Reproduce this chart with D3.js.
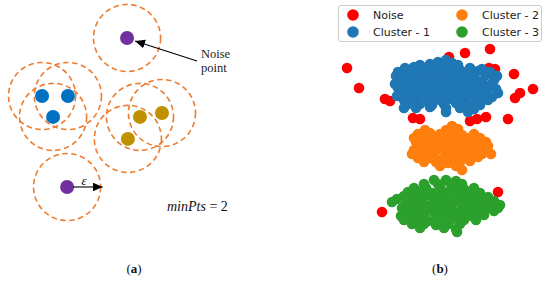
<!DOCTYPE html>
<html><head><meta charset="utf-8">
<script src="https://cdn.jsdelivr.net/npm/d3@7"></script>
<style>html,body{margin:0;padding:0;background:#fff;}svg{display:block}</style>
</head><body><svg id="c" width="550" height="282"></svg>
<script>
// ---------- Panel (a): DBSCAN illustration (diagram units) ----------
const epsRadius = 12.2;
const blueCore = [[15.3,34.9],[24.7,34.9],[19.3,42.5]];
const goldCore = [[50.9,42.5],[58.9,41.1],[46.5,50.5]];
const noiseA   = [[46.2,13.8]];
const borderA  = [[24.4,68.0]];
const minPts = 2;

// ---------- Panel (b): clustering result ----------
const legendLabels = ["Noise","Cluster - 1","Cluster - 2","Cluster - 3"];
const noiseB = [[-9.8,8.2],[-8.6,6.2],[-6.0,5.1],[-5.5,4.9],[-3.2,3.2],[-2.5,3.1],[0.4,9.3],[2.0,9.7],[4.5,10.1],[4.4,8.2],[5.0,8.1],[6.9,7.6],[8.8,6.1],[7.5,5.7],[7.0,5.2],[6.3,3.1],[4.1,3.3],[2.5,2.9],[3.2,3.1],[5.3,-4.2],[-6.3,-6.2]];
const cluster1 = [
 [-0.7,8.8],[0.1,9.0],[0.7,8.7],
 [-2.5,8.5],[-1.5,8.6],[-0.3,8.4],[1.3,8.5],
 [-4.0,8.2],[-3.1,8.3],[-2.0,8.1],[-0.9,8.2],[0.3,8.2],[1.5,8.0],[2.5,8.2],[3.7,8.1],
 [-4.7,7.8],[-3.5,7.7],[-2.5,7.9],[-1.3,7.8],[-0.1,7.8],[1.0,7.7],[2.1,7.8],[3.3,7.9],[4.5,7.8],
 [-4.9,7.4],[-4.1,7.3],[-2.9,7.4],[-1.7,7.5],[-0.5,7.4],[0.7,7.3],[1.9,7.4],[2.9,7.4],[4.1,7.5],[5.2,7.4],
 [-4.5,7.0],[-3.3,7.1],[-2.1,7.0],[-0.9,6.9],[0.3,7.0],[1.5,7.1],[2.5,7.0],[3.7,6.9],[4.9,7.0],
 [-5.0,6.6],[-4.0,6.5],[-2.7,6.6],[-1.5,6.7],[-0.3,6.6],[0.9,6.5],[2.1,6.6],[3.3,6.6],[4.5,6.5],
 [-4.7,6.2],[-3.5,6.3],[-2.3,6.2],[-1.1,6.1],[0.1,6.2],[1.3,6.3],[2.5,6.2],[3.7,6.2],[5.1,6.1],
 [-4.3,5.8],[-3.1,5.7],[-1.9,5.8],[-0.7,5.9],[0.5,5.8],[1.7,5.7],[2.9,5.8],[4.1,5.8],[5.3,5.7],
 [-4.8,5.4],[-3.7,5.4],[-2.5,5.5],[-1.3,5.4],[-0.1,5.3],[1.1,5.4],[2.3,5.5],[3.5,5.4],[4.7,5.3],
 [-4.1,5.0],[-2.9,5.0],[-1.7,4.9],[-0.5,5.0],[0.7,5.1],[1.9,5.0],[3.1,4.9],[4.3,5.0],
 [-3.7,4.6],[-2.5,4.6],[-1.3,4.5],[-0.1,4.6],[1.1,4.7],[2.3,4.6],[3.5,4.5],
 [-4.1,4.2],[-2.9,4.2],[-1.5,4.3],[0.1,4.2],[1.5,4.2],[2.9,4.1],
 [0.1,3.8],[2.3,3.8]];
const cluster2 = [
 [0.7,2.4],
 [-2.0,2.0],[0.1,2.0],[1.3,2.1],
 [-2.7,1.6],[-1.5,1.7],[-0.5,1.6],[0.7,1.6],[1.7,1.5],[2.9,1.6],
 [-3.1,1.2],[-2.1,1.2],[-0.9,1.3],[0.3,1.2],[1.3,1.1],[2.3,1.2],[3.5,1.2],
 [-2.9,0.8],[-1.7,0.8],[-0.5,0.9],[0.7,0.8],[1.9,0.7],[3.1,0.8],[4.1,0.8],
 [-2.5,0.4],[-1.3,0.4],[-0.1,0.3],[1.1,0.4],[2.3,0.5],[3.5,0.4],[4.3,0.4],
 [-3.1,0.0],[-1.9,0.0],[-0.7,0.1],[0.5,0.0],[1.7,-0.1],[2.9,0.0],[4.1,0.0],
 [-3.3,-0.4],[-2.3,-0.4],[-1.1,-0.3],[0.1,-0.4],[1.3,-0.5],[2.5,-0.4],[3.7,-0.4],[4.6,-0.4],
 [-2.7,-0.8],[-1.5,-0.8],[-0.3,-0.9],[0.9,-0.8],[2.1,-0.8],[3.3,-0.7],
 [-2.1,-1.2],[-0.9,-1.2],[0.3,-1.3],[1.5,-1.2],[2.5,-1.1],
 [-0.5,-1.6],[1.1,-1.6],
 [1.7,-2.0]];
const cluster3 = [
 [-1.1,-3.0],[0.1,-3.0],[1.1,-3.1],
 [-2.1,-3.4],[-0.7,-3.4],[0.5,-3.3],[1.7,-3.4],
 [-3.1,-3.8],[-1.9,-3.8],[-0.5,-3.7],[0.7,-3.8],[1.9,-3.9],[2.9,-3.8],
 [-3.7,-4.2],[-2.5,-4.2],[-1.3,-4.3],[-0.1,-4.2],[1.1,-4.1],[2.3,-4.2],[3.5,-4.3],
 [-4.1,-4.6],[-2.9,-4.6],[-1.7,-4.5],[-0.5,-4.6],[0.7,-4.7],[1.9,-4.6],[3.1,-4.6],[4.3,-4.7],
 [-5.3,-5.2],[-4.8,-4.9],[-3.5,-5.0],[-2.3,-5.1],[-1.1,-5.0],[0.1,-5.0],[1.3,-4.9],[2.5,-5.0],[3.7,-5.0],[4.9,-5.1],
 [-3.9,-5.4],[-2.7,-5.4],[-1.5,-5.5],[-0.3,-5.4],[0.9,-5.3],[2.1,-5.4],[3.3,-5.4],[4.5,-5.4],[5.5,-5.5],
 [-4.3,-5.8],[-3.1,-5.8],[-1.9,-5.9],[-0.7,-5.8],[0.5,-5.7],[1.7,-5.8],[2.9,-5.8],[4.1,-5.9],[5.3,-5.8],
 [-3.7,-6.2],[-2.5,-6.2],[-1.3,-6.1],[-0.1,-6.2],[1.1,-6.3],[2.3,-6.2],[3.5,-6.2],[4.9,-6.1],
 [-4.4,-6.6],[-3.3,-6.6],[-2.1,-6.7],[-0.9,-6.6],[0.3,-6.5],[1.5,-6.6],[2.7,-6.6],[3.9,-6.5],
 [-4.1,-7.0],[-2.9,-7.0],[-1.7,-7.1],[-0.5,-7.0],[0.7,-6.9],[1.9,-7.0],[3.1,-7.0],
 [-3.3,-7.4],[-2.1,-7.4],[-0.9,-7.5],[0.3,-7.4],[1.5,-7.4],
 [-2.5,-7.8],[-0.1,-7.8],[1.1,-7.9],
 [1.2,-8.2]];

const colors = {noise:"#ff0000", c1:"#1f77b4", c2:"#ff7f0e", c3:"#2ca02c"};

const svg = d3.select("#c");
const defs = svg.append("defs");
defs.append("marker").attr("id","ah").attr("markerUnits","userSpaceOnUse")
  .attr("markerWidth",11).attr("markerHeight",10).attr("refX",10).attr("refY",4.5)
  .attr("orient","auto")
  .append("path").attr("d","M0,0 L10,4.5 L0,9 Z").attr("fill","#000");

// ===== Panel (a) =====
const xa = d3.scaleLinear().domain([0,100]).range([0,275]);
const ya = d3.scaleLinear().domain([0,100]).range([0,275]);
const ra = d => xa(d) - xa(0);
const ga = svg.append("g");
const allA = [...noiseA.map(p=>({p,c:"#7030a0"})), ...blueCore.map(p=>({p,c:"#0070c0"})),
              ...goldCore.map(p=>({p,c:"#bf9000"})), ...borderA.map(p=>({p,c:"#7030a0"}))];
ga.selectAll("circle.eps").data(allA).join("circle").attr("class","eps")
  .attr("cx",d=>xa(d.p[0])).attr("cy",d=>ya(d.p[1])).attr("r",ra(epsRadius))
  .attr("fill","none").attr("stroke","#ed7d31").attr("stroke-width",1.6)
  .attr("stroke-dasharray","5.5,3.5");
ga.selectAll("circle.pt").data(allA).join("circle").attr("class","pt")
  .attr("cx",d=>xa(d.p[0])).attr("cy",d=>ya(d.p[1])).attr("r",7)
  .attr("fill",d=>d.c);

// noise annotation
const np = noiseA[0];
ga.append("line").attr("x1",197).attr("y1",61)
  .attr("x2",xa(np[0])+8).attr("y2",ya(np[1])+3)
  .attr("stroke","#000").attr("stroke-width",1.1).attr("marker-end","url(#ah)");
const nt = ga.append("text").attr("font-family","Liberation Serif, serif").attr("font-size",12.5).attr("fill","#222");
nt.append("tspan").attr("x",201).attr("y",58).text("Noise");
nt.append("tspan").attr("x",201).attr("y",72).text("point");

// eps arrow
const bp = borderA[0];
ga.append("line").attr("x1",xa(bp[0])+6).attr("y1",ya(bp[1]))
  .attr("x2",xa(bp[0]+epsRadius)+2).attr("y2",ya(bp[1]))
  .attr("stroke","#000").attr("stroke-width",1.1).attr("marker-end","url(#ah)");
ga.append("text").attr("x",xa(bp[0])+17).attr("y",ya(bp[1])-2).attr("text-anchor","middle")
  .attr("font-family","Liberation Serif, serif").attr("font-style","italic").attr("font-size",13).text("ε");

const mt = ga.append("text").attr("x",167).attr("y",211).attr("font-family","Liberation Serif, serif").attr("font-size",14).attr("fill","#111");
mt.append("tspan").attr("font-style","italic").text("minPts");
mt.append("tspan").text(" = " + minPts);

const la = ga.append("text").attr("x",134).attr("y",273).attr("text-anchor","middle").attr("font-family","Liberation Serif, serif").attr("font-size",13).attr("fill","#111");
la.append("tspan").text("(");
la.append("tspan").attr("font-weight","bold").text("a");
la.append("tspan").text(")");

// ===== Panel (b) =====
const xb = d3.scaleLinear().domain([-11,10]).range([335,545]);
const yb = d3.scaleLinear().domain([-10,10]).range([250,50]);
const gb = svg.append("g");
const rb = 5.3;
const series = [
  {data:noiseB, c:colors.noise},
  {data:cluster1, c:colors.c1},
  {data:cluster2, c:colors.c2},
  {data:cluster3, c:colors.c3}];
series.forEach(s => {
  gb.append("g").selectAll("circle").data(s.data).join("circle")
    .attr("cx",d=>xb(d[0])).attr("cy",d=>yb(d[1])).attr("r",rb).attr("fill",s.c);
});

// legend
const lg = gb.append("g");
lg.append("rect").attr("x",338.5).attr("y",5.5).attr("width",203).attr("height",36).attr("rx",2.5)
  .attr("fill","#fff").attr("fill-opacity",0.8).attr("stroke","#cccccc").attr("stroke-width",1);
const legendItems = legendLabels.map((l,i)=>({l, c:series[i].c, col: Math.floor(i/2), row: i%2}));
const li = lg.selectAll("g.li").data(legendItems).join("g").attr("class","li")
  .attr("transform",d=>`translate(${353 + d.col*109},${15 + d.row*17})`);
li.append("circle").attr("r",5.8).attr("fill",d=>d.c);
li.append("text").attr("x",20).attr("y",4).attr("font-family","DejaVu Sans, sans-serif").attr("font-size",11)
  .attr("fill","#222").text(d=>d.l);

const lb = gb.append("text").attr("x",440).attr("y",273).attr("text-anchor","middle").attr("font-family","Liberation Serif, serif").attr("font-size",13).attr("fill","#111");
lb.append("tspan").text("(");
lb.append("tspan").attr("font-weight","bold").text("b");
lb.append("tspan").text(")");
</script></body></html>
